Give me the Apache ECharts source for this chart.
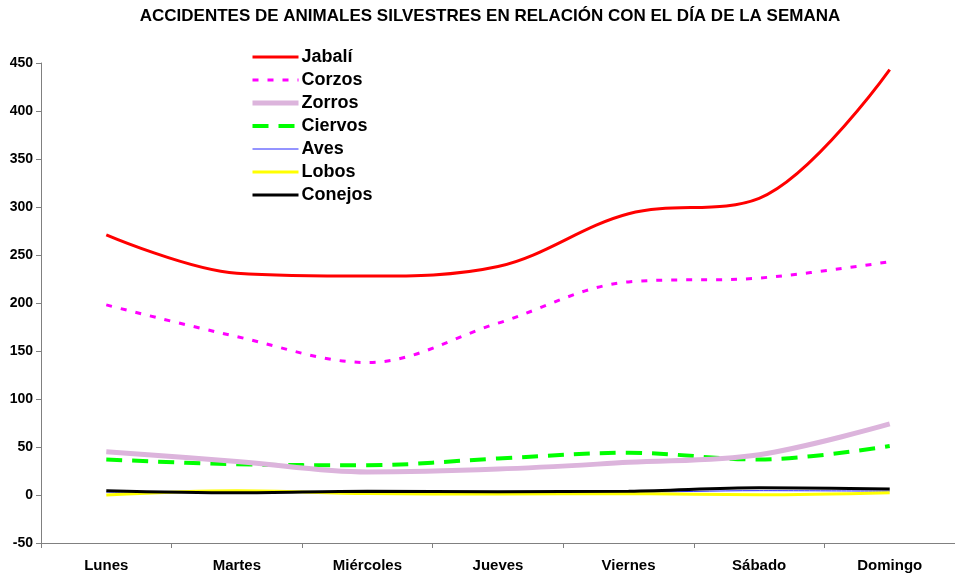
<!DOCTYPE html>
<html lang="es" style="height: 100%">
<head>
  <meta charset="utf-8">
</head>
<body style="height: 100%; margin: 0">
  <div id="container" style="width: 955px; height: 578px"></div>
  <script type="text/javascript" src="https://cdn.jsdelivr.net/npm/echarts@6/dist/echarts.min.js"></script>
  <script type="text/javascript">
    // datos
    var dias = ['Lunes', 'Martes', 'Miércoles', 'Jueves', 'Viernes', 'Sábado', 'Domingo'];
    var jabali = [271, 231, 228, 238, 293, 309, 443];
    var corzos = [198, 165, 138, 179, 222, 226, 243];
    var zorros = [45, 35, 24, 27, 34, 42, 74];
    var ciervos = [37, 32, 31, 38, 44, 37, 51];
    var aves = [3, 3, 3, 3, 3, 4.5, 4];
    var lobos = [0, 4.5, 1.5, 1, 1.5, 0.3, 2.4];
    var conejos = [4.5, 2.4, 4, 3.5, 4, 7.6, 6.2];

    var dom = document.getElementById('container');
    var myChart = echarts.init(dom, null, { renderer: 'canvas' });
    var font = '"Liberation Sans", Arial, sans-serif';

    function serie(name, data, color, width, type, z) {
      return {
        name: name,
        type: 'line',
        data: data,
        smooth: 0.35,
        showSymbol: false,
        symbol: 'none',
        z: z,
        lineStyle: { color: color, width: width, type: type, cap: 'butt' },
        itemStyle: { color: color }
      };
    }

    var option = {
      animation: false,
      backgroundColor: '#fff',
      title: {
        text: 'ACCIDENTES DE ANIMALES SILVESTRES EN RELACIÓN CON EL DÍA DE LA SEMANA',
        left: 485,
        textAlign: 'center',
        top: 3,
        textStyle: { fontFamily: font, fontSize: 17, fontWeight: 'bold', color: '#000' }
      },
      legend: {
        orient: 'vertical',
        left: 250,
        top: 48,
        padding: 0,
        itemWidth: 46,
        itemHeight: 14,
        itemGap: 5,
        itemStyle: { opacity: 0 },
        lineStyle: { width: 'inherit' },
        textStyle: { fontFamily: font, fontSize: 18, fontWeight: 'bold', color: '#000', padding: [0, 0, 0, -2] },
        data: ['Jabalí', 'Corzos', 'Zorros', 'Ciervos', 'Aves', 'Lobos', 'Conejos']
      },
      grid: { left: 41, right: -7, top: 63, bottom: 35, containLabel: false },
      xAxis: {
        type: 'category',
        data: dias,
        boundaryGap: true,
        axisLine: { onZero: false, lineStyle: { color: '#808080', width: 1 } },
        axisTick: { show: true, length: 5, lineStyle: { color: '#808080' } },
        axisLabel: { fontFamily: font, fontSize: 15, fontWeight: 'bold', color: '#000', margin: 15 },
        splitLine: { show: false }
      },
      yAxis: {
        type: 'value',
        min: -50,
        max: 450,
        interval: 50,
        axisLine: { show: true, lineStyle: { color: '#808080', width: 1 } },
        axisTick: { show: true, length: 5, lineStyle: { color: '#808080' } },
        axisLabel: { fontFamily: font, fontSize: 14, fontWeight: 'bold', color: '#000', margin: 8 },
        splitLine: { show: false }
      },
      series: [
        serie('Jabalí', jabali, '#ff0000', 3, 'solid', 7),
        serie('Corzos', corzos, '#ff00ff', 3, [6, 9], 6),
        serie('Zorros', zorros, '#dcb4dc', 5, 'solid', 5),
        serie('Ciervos', ciervos, '#00ff00', 4, [16, 10], 4),
        serie('Aves', aves, '#2828ff', 1, 'solid', 3),
        serie('Lobos', lobos, '#ffff00', 3, 'solid', 8),
        serie('Conejos', conejos, '#000000', 3, 'solid', 9)
      ]
    };

    myChart.setOption(option);
    window.addEventListener('resize', myChart.resize);
  </script>
</body>
</html>
